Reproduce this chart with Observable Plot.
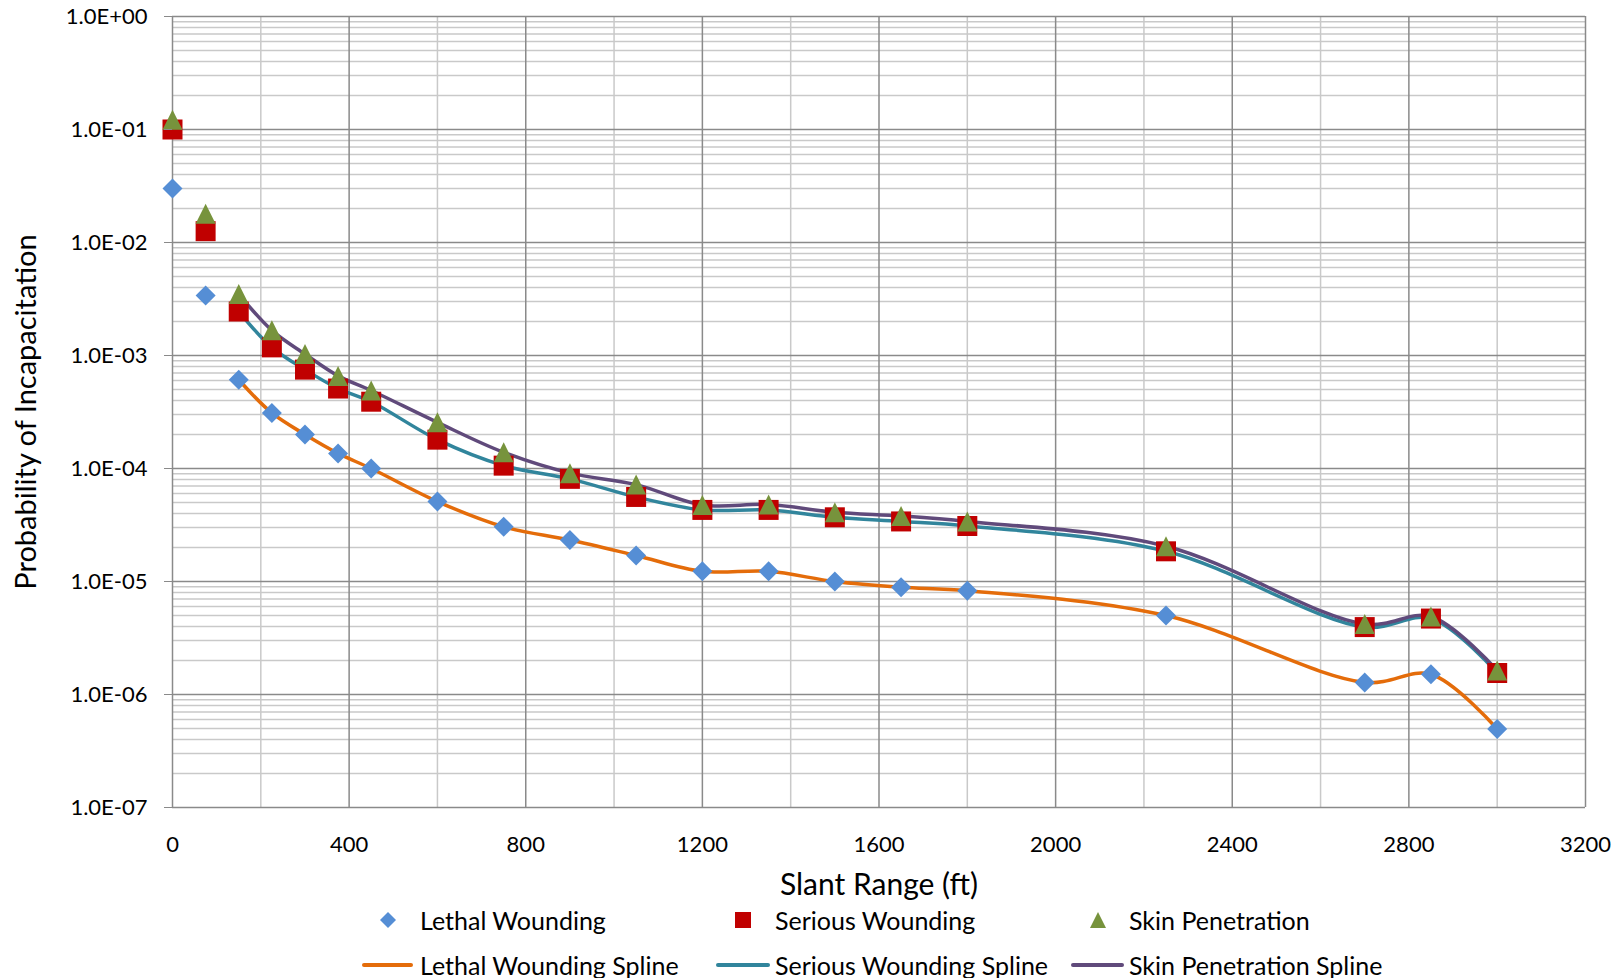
<!DOCTYPE html>
<html><head><meta charset="utf-8">
<script src="https://cdn.jsdelivr.net/npm/d3@7"></script>
<script src="https://cdn.jsdelivr.net/npm/@observablehq/plot@0.6"></script>
<style>
body{margin:0;background:#fff;font-family:Lato,"Open Sans",sans-serif;}
#wrap{position:relative;width:1620px;height:978px;overflow:hidden}
#legend{position:absolute;left:0;top:900px;width:1620px;height:78px;}
.lt{position:absolute;font-size:25px;color:#000;line-height:1;transform:translateY(-50%);white-space:nowrap}
.ls{position:absolute;transform:translate(-50%,-50%)}
</style></head><body><div id="wrap"><div id="chart"></div><div id="legend"></div></div>
<script>
// ---- data ----
const ranges  = [0, 75, 150, 225, 300, 375, 450, 600, 750, 900, 1050, 1200, 1350, 1500, 1650, 1800, 2250, 2700, 2850, 3000];
const lethal  = [3.0e-2, 3.4e-3, 6.1e-4, 3.1e-4, 2.0e-4, 1.36e-4, 1.0e-4, 5.1e-5, 3.05e-5, 2.33e-5, 1.7e-5, 1.23e-5, 1.23e-5, 1.0e-5, 8.9e-6, 8.3e-6, 5.0e-6, 1.28e-6, 1.51e-6, 4.95e-7];
const serious = [1.0e-1, 1.26e-2, 2.45e-3, 1.18e-3, 7.5e-4, 5.1e-4, 3.9e-4, 1.8e-4, 1.06e-4, 8.1e-5, 5.6e-5, 4.3e-5, 4.3e-5, 3.7e-5, 3.4e-5, 3.1e-5, 1.85e-5, 3.95e-6, 4.7e-6, 1.55e-6];
const skin    = [1.22e-1, 1.8e-2, 3.5e-3, 1.67e-3, 1.03e-3, 6.6e-4, 4.9e-4, 2.56e-4, 1.39e-4, 9.1e-5, 7.2e-5, 4.75e-5, 4.8e-5, 4.1e-5, 3.8e-5, 3.4e-5, 2.05e-5, 4.2e-6, 4.9e-6, 1.63e-6];
const splineStart = 150;
const xTicks = [0, 400, 800, 1200, 1600, 2000, 2400, 2800, 3200];
const xMinor = [200, 600, 1000, 1400, 1800, 2200, 2600, 3000];
const yTicks = [1e-7, 1e-6, 1e-5, 1e-4, 1e-3, 1e-2, 1e-1, 1];
const seriesNames = ["Lethal Wounding", "Serious Wounding", "Skin Penetration"];
const markerColors = ["#558ED5", "#C00000", "#77933C"];
const splineColors = ["#E46C0A", "#31859C", "#604A7B"];
const xLabel = "Slant Range (ft)";
const yLabel = "Probability of Incapacitation";

// ---- build ----
const values = [lethal, serious, skin];
const points = values.map((v, k) => ranges.map((x, i) => ({x, y: v[i], s: seriesNames[k]})));
const splines = points.map(p => p.filter(d => d.x >= splineStart));
const yMinor = d3.scaleLog().domain([1e-7, 1]).ticks(40).filter(t => !yTicks.some(d => Math.abs(d - t) / t < 1e-9));

const sym = {
  diamond: {draw(c, size){const r = Math.sqrt(size/Math.PI); c.moveTo(0,-r); c.lineTo(r,0); c.lineTo(0,r); c.lineTo(-r,0); c.closePath();}},
  square: {draw(c, size){const r = Math.sqrt(size/Math.PI); c.moveTo(-r,-r); c.lineTo(r,-r); c.lineTo(r,r); c.lineTo(-r,r); c.closePath();}},
  triangle: {draw(c, size){const r = Math.sqrt(size/Math.PI); c.moveTo(0,-r); c.lineTo(r,r); c.lineTo(-r,r); c.closePath();}}
};
const syms = [sym.diamond, sym.square, sym.triangle];
const fmt = d => { const e = Math.round(Math.log10(d)); return "1.0E" + (e < 0 ? "-" : "+") + String(Math.abs(e)).padStart(2, "0"); };

const minorC = "#c9c9c9", majorC = "#8a8a8a";
const chart = Plot.plot({
  width: 1620, height: 900,
  marginLeft: 172, marginRight: 35, marginTop: 16, marginBottom: 93,
  style: {fontFamily: "Lato, 'Open Sans', sans-serif", background: "white", overflow: "visible"},
  x: {domain: [0, 3200]},
  y: {type: "log", domain: [1e-7, 1]},
  marks: [
    Plot.ruleY(yMinor, {stroke: minorC, strokeWidth: 1.5}),
    Plot.ruleX(xMinor, {stroke: minorC, strokeWidth: 1.5}),
    Plot.ruleY(yTicks, {stroke: majorC, strokeWidth: 1.5}),
    Plot.ruleX(xTicks, {stroke: majorC, strokeWidth: 1.5}),
    ...splines.map((d, k) => Plot.line(d, {x: "x", y: "y", stroke: splineColors[k], strokeWidth: 3.5, curve: "catmull-rom"})),
    ...points.map((d, k) => Plot.dot(d, {x: "x", y: "y", symbol: syms[k], r: 10, fill: markerColors[k], stroke: "none"})),
    Plot.axisY(yTicks, {tickSize: 8, tickPadding: 17, tickFormat: fmt, fontSize: 22, stroke: majorC, label: null}),
    Plot.axisX(xTicks, {tickSize: 0, tickPadding: 29, tickFormat: d => String(d), fontSize: 22, label: null}),
    Plot.text([xLabel], {frameAnchor: "bottom", dy: 87, fontSize: 30, fill: "#000"}),
    Plot.text([yLabel], {frameAnchor: "left", textAnchor: "middle", dx: -146, rotate: -90, fontSize: 29, fill: "#000"})
  ]
});
document.getElementById("chart").appendChild(chart);

// ---- legend ----
const lg = document.getElementById("legend");
const textX = [420, 775, 1129];
const symX = [388, 743, 1098];
const lineX = [[362, 413], [716, 770], [1071, 1124]];
const row1 = 20, row2 = 65;
const paths = ["M8,0L16,8L8,16L0,8Z", "M0,0H16V16H0Z", "M8,0L16,16L0,16Z"];
seriesNames.forEach((n, k) => {
  const s = document.createElement("div");
  s.className = "ls"; s.style.left = symX[k] + "px"; s.style.top = row1 + "px";
  s.innerHTML = `<svg width="16" height="16" style="display:block"><path d="${paths[k]}" fill="${markerColors[k]}"/></svg>`;
  lg.appendChild(s);
  const t = document.createElement("div");
  t.className = "lt"; t.style.left = textX[k] + "px"; t.style.top = row1 + "px"; t.textContent = n;
  lg.appendChild(t);
  const l = document.createElement("div");
  l.style.cssText = `position:absolute;left:${lineX[k][0]}px;top:${row2 - 2}px;width:${lineX[k][1] - lineX[k][0]}px;height:4px;background:${splineColors[k]};border-radius:2px`;
  lg.appendChild(l);
  const t2 = document.createElement("div");
  t2.className = "lt"; t2.style.left = textX[k] + "px"; t2.style.top = row2 + "px"; t2.textContent = n + " Spline";
  lg.appendChild(t2);
});
</script></body></html>
